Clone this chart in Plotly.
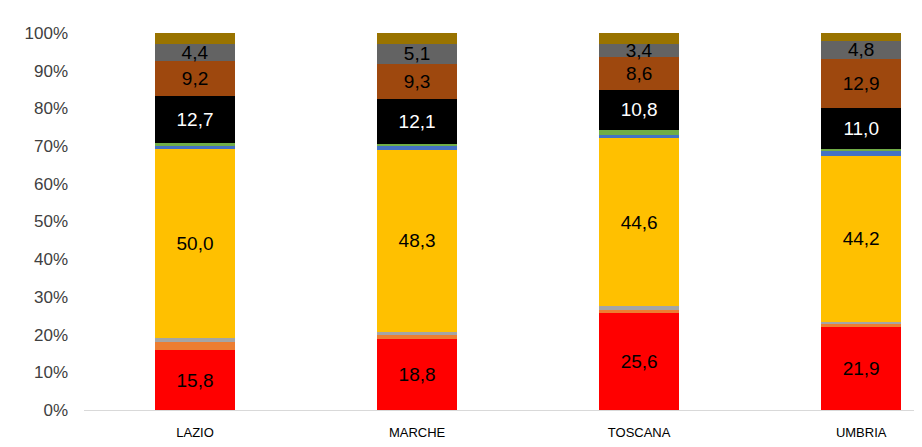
import plotly.graph_objects as go

categories = ["LAZIO", "MARCHE", "TOSCANA", "UMBRIA"]

s_red = [15.8, 18.8, 25.6, 21.9]
s_orange = [2.2, 1.2, 0.9, 1.0]
s_gray = [1.2, 0.7, 1.0, 0.4]
s_yellow = [50.0, 48.3, 44.6, 44.2]
s_blue = [0.9, 0.9, 0.9, 1.3]
s_green = [0.6, 0.6, 1.2, 0.4]
s_black = [12.7, 12.1, 10.8, 11.0]
s_brown = [9.2, 9.3, 8.6, 12.9]
s_dgray = [4.4, 5.1, 3.4, 4.8]
s_olive = [3.0, 3.0, 3.0, 2.1]

series = [
    ("s1", s_red, "#FF0000", True, "#000000"),
    ("s2", s_orange, "#ED7D31", False, None),
    ("s3", s_gray, "#A5A5A5", False, None),
    ("s4", s_yellow, "#FFC000", True, "#000000"),
    ("s5", s_blue, "#4472C4", False, None),
    ("s6", s_green, "#70AD47", False, None),
    ("s7", s_black, "#000000", True, "#FFFFFF"),
    ("s8", s_brown, "#9E480E", True, "#000000"),
    ("s9", s_dgray, "#636363", True, "#000000"),
    ("s10", s_olive, "#997300", False, None),
]

fig = go.Figure()
for name, vals, color, show, tcolor in series:
    fig.add_trace(go.Bar(
        x=list(range(len(categories))), y=vals, name=name,
        marker=dict(color=color, line=dict(width=0)),
        texttemplate="%{y:.1f}" if show else None,
        textposition="inside" if show else "none",
        insidetextanchor="middle",
        textangle=0,
        constraintext="none",
        textfont=dict(color=tcolor or "#000", size=19, family="Liberation Sans"),
        hoverinfo="skip",
    ))

fig.update_layout(
    barmode="stack",
    bargap=0.64,
    width=922, height=447,
    margin=dict(l=76, r=0, t=25, b=45),
    plot_bgcolor="white", paper_bgcolor="white",
    showlegend=False,
    separators=",.",
    font=dict(family="Liberation Sans", color="#404040"),
    xaxis=dict(
        tickmode="array", tickvals=list(range(len(categories))), ticktext=categories,
        range=[-0.5, 3.31], showgrid=False, zeroline=False,
        showline=True, linecolor="#D9D9D9", linewidth=1,
        tickfont=dict(size=13, color="#000000"), ticks="",
        ticklabelstandoff=10,
    ),
    yaxis=dict(
        range=[0, 100], dtick=10, ticksuffix="%", showgrid=False, zeroline=False,
        showline=False, tickfont=dict(size=17, color="#404040"),
        ticklabelstandoff=15,
    ),
)

fig.write_html("out.html")
